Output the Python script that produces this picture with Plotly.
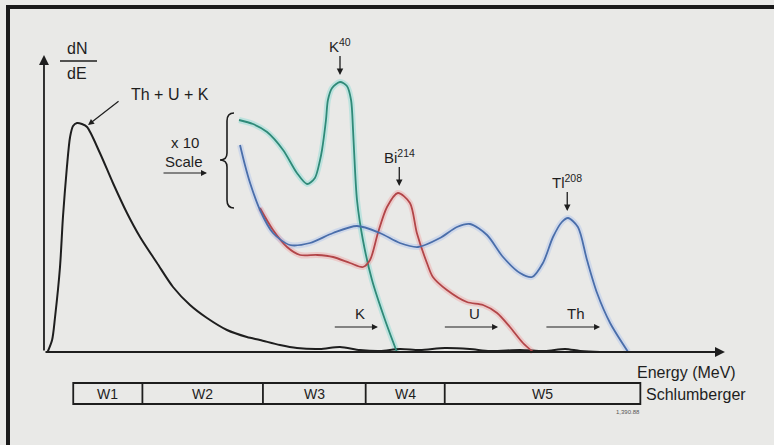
import plotly.graph_objects as go

# ---------------- data (energy in MeV, dN/dE in arbitrary units) ----------------
total_E = [-0.02, 0.003, 0.018, 0.043, 0.058, 0.078, 0.094, 0.109, 0.129, 0.154, 0.180,
           0.245, 0.311, 0.382, 0.448, 0.534, 0.615, 0.701, 0.787, 0.888, 0.989, 1.055,
           1.156, 1.242, 1.358, 1.460, 1.561, 1.662, 1.763, 1.864, 1.991, 2.117, 2.219,
           2.371, 2.497, 2.599, 2.675, 2.776, 2.877]
total_N = [0, 12, 35, 85, 135, 185, 215, 226, 229, 228, 225,
           199, 169, 139, 115, 89, 65, 47, 34, 22, 15, 12,
           7, 4, 3, 5, 2, 1, 3, 2, 4, 3, 1,
           2, 1, 3, 1, 0, 0]

k_E = [0.949, 1.020, 1.091, 1.172, 1.242, 1.293, 1.333, 1.359, 1.369, 1.389, 1.399,
       1.420, 1.460, 1.495, 1.516, 1.526, 1.531, 1.546, 1.576, 1.622, 1.688, 1.748]
k_N = [232, 228, 220, 202, 179, 168, 174, 192, 202, 232, 252,
       264, 270, 266, 252, 222, 202, 152, 112, 72, 32, 0]

u_E = [1.055, 1.121, 1.192, 1.258, 1.344, 1.425, 1.511, 1.576, 1.612, 1.652, 1.698,
       1.753, 1.814, 1.849, 1.900, 1.930, 2.001, 2.102, 2.184, 2.255, 2.320, 2.386, 2.437]
u_N = [144, 122, 105, 97, 97, 95, 89, 85, 92, 119, 145,
       159, 149, 119, 89, 75, 62, 50, 47, 39, 25, 9, 0]

th_E = [0.954, 0.979, 1.005, 1.055, 1.121, 1.207, 1.308, 1.425, 1.546, 1.662, 1.763,
        1.855, 1.966, 2.052, 2.118, 2.204, 2.285, 2.371, 2.432, 2.487, 2.538, 2.583,
        2.614, 2.664, 2.710, 2.761, 2.827, 2.918]
th_N = [207, 187, 169, 142, 119, 107, 109, 119, 126, 119, 109,
        105, 114, 125, 128, 117, 95, 79, 75, 89, 115, 130,
        134, 125, 92, 59, 29, 0]

window_names = ["W1", "W2", "W3", "W4", "W5"]
window_edges = [0.11, 0.46, 1.07, 1.59, 1.99, 2.98]

peak_labels = ["K<sup>40</sup>", "Bi<sup>214</sup>", "Tl<sup>208</sup>"]
peak_E = [1.46, 1.76, 2.61]

band_labels = ["K", "U", "Th"]
band_start_E = [1.426, 1.983, 2.497]
band_end_E = [1.652, 2.260, 2.776]

# ---------------- figure ----------------
W, H = 774, 445
FONT = "Liberation Sans, Arial, sans-serif"
INK = "#1e1e1e"
BG = "#e9e9e7"


def px(x):
    return x / W


def py(y):
    return 1 - y / H


def label(x, y, text, size, xanchor="center", color=INK):
    return dict(x=px(x), y=py(y), xref="paper", yref="paper", text=text, showarrow=False,
                xanchor=xanchor, yanchor="middle", font=dict(family=FONT, size=size, color=color))


fig = go.Figure()

glow = [
    (k_E, k_N, "rgba(110,215,205,0.35)"),
    (u_E, u_N, "rgba(240,150,150,0.35)"),
    (th_E, th_N, "rgba(150,180,240,0.30)"),
]
for xs, ys, c in glow:
    fig.add_trace(go.Scatter(x=xs, y=ys, mode="lines", line=dict(color=c, width=6, shape="spline", smoothing=0.8),
                             hoverinfo="skip", showlegend=False))

series = [
    (total_E, total_N, INK, 2.0),
    (k_E, k_N, "#2f8a78", 1.8),
    (u_E, u_N, "#b24548", 1.8),
    (th_E, th_N, "#4a6eaa", 1.8),
]
for xs, ys, c, w in series:
    fig.add_trace(go.Scatter(x=xs, y=ys, mode="lines", line=dict(color=c, width=w, shape="spline", smoothing=0.8),
                             hoverinfo="skip", showlegend=False))

ann = []
shapes = []

# axes with arrows
x0 = -0.038
ann.append(dict(x=3.408, y=0, ax=x0, ay=0, axref="x", ayref="y", xref="x", yref="y", text="",
                showarrow=True, arrowhead=2, arrowsize=1.1, arrowwidth=1.8, arrowcolor=INK))
ann.append(dict(x=x0, y=297, ax=x0, ay=0, axref="x", ayref="y", xref="x", yref="y", text="",
                showarrow=True, arrowhead=2, arrowsize=1.1, arrowwidth=1.8, arrowcolor=INK))

# dN/dE label
ann.append(label(77, 49, "dN", 16))
ann.append(label(77, 73, "dE", 16))
shapes.append(dict(type="line", xref="paper", yref="paper", x0=px(60), x1=px(97), y0=py(61), y1=py(61),
                   line=dict(color=INK, width=1.3)))

# Th + U + K label and arrow
ann.append(label(170, 95, "Th + U + K", 16))
ann.append(dict(x=0.185, y=227, xref="x", yref="y", ax=32, ay=-25, text="", showarrow=True,
                arrowhead=2, arrowsize=1, arrowwidth=1.2, arrowcolor=INK))

# x 10 Scale with brace
ann.append(label(185, 143, "x 10", 15))
ann.append(label(184, 161, "Scale", 15))
ann.append(dict(x=0.787, y=179, xref="x", yref="y", ax=-45, ay=0, text="", showarrow=True,
                arrowhead=2, arrowsize=1, arrowwidth=1.2, arrowcolor=INK))

brace_pts = [("M", 234, 113), ("Q", 227, 113, 227, 121), ("L", 227, 153), ("Q", 227, 160, 220, 160),
             ("Q", 227, 160, 227, 167), ("L", 227, 200), ("Q", 227, 208, 234, 208)]
path = ""
for seg in brace_pts:
    cmd = seg[0]
    nums = seg[1:]
    coords = []
    for i in range(0, len(nums), 2):
        coords.append(f"{px(nums[i]):.5f},{py(nums[i + 1]):.5f}")
    path += cmd + " " + " ".join(coords) + " "
shapes.append(dict(type="path", xref="paper", yref="paper", path=path.strip(),
                   line=dict(color=INK, width=1.6)))

# peak labels with arrows
peak_series = [(k_E, k_N), (u_E, u_N), (th_E, th_N)]
for lab, e, (xs, ys) in zip(peak_labels, peak_E, peak_series):
    top = max(v for xv, v in zip(xs, ys) if abs(xv - e) < 0.06)
    ann.append(dict(x=e, y=top + 7, xref="x", yref="y", ax=0, ay=-30, text=lab, showarrow=True,
                    arrowhead=2, arrowsize=1, arrowwidth=1.3, arrowcolor=INK,
                    font=dict(family=FONT, size=15, color=INK)))

# K / U / Th arrows
for lab, s, e in zip(band_labels, band_start_E, band_end_E):
    ann.append(dict(x=e, y=25, ax=s, ay=25, axref="x", ayref="y", xref="x", yref="y", text="",
                    showarrow=True, arrowhead=2, arrowsize=1, arrowwidth=1.2, arrowcolor=INK))
    ann.append(dict(x=(s + e) / 2 + 0.02, y=39, xref="x", yref="y", text=lab, showarrow=False,
                    xanchor="center", yanchor="middle", font=dict(family=FONT, size=15, color=INK)))

ann.append(label(686, 372, "Energy (MeV)", 16))

# Schlumberger window bar
y_top, y_bot = -31, -52
shapes.append(dict(type="rect", xref="x", yref="y", x0=window_edges[0], x1=window_edges[-1],
                   y0=y_bot, y1=y_top, line=dict(color=INK, width=1.8), fillcolor="rgba(0,0,0,0)"))
for e in window_edges[1:-1]:
    shapes.append(dict(type="line", xref="x", yref="y", x0=e, x1=e, y0=y_bot, y1=y_top,
                       line=dict(color=INK, width=1.8)))
for name, a, b in zip(window_names, window_edges[:-1], window_edges[1:]):
    ann.append(dict(x=(a + b) / 2, y=(y_top + y_bot) / 2, xref="x", yref="y", text=name, showarrow=False,
                    xanchor="center", yanchor="middle", font=dict(family=FONT, size=14, color=INK)))
ann.append(label(644, 394, "Schlumberger", 16, xanchor="left"))
ann.append(label(628, 412, "1,390.88", 6, color="#555555"))

# scan frame (dark border on left and top)
shapes.append(dict(type="rect", xref="paper", yref="paper", x0=px(6), x1=px(10), y0=0, y1=py(5),
                   line=dict(width=0), fillcolor="#1a1a1a"))
shapes.append(dict(type="rect", xref="paper", yref="paper", x0=px(6), x1=1, y0=py(9), y1=py(5),
                   line=dict(width=0), fillcolor="#1a1a1a"))

fig.update_layout(
    width=W, height=H,
    margin=dict(l=0, r=0, t=0, b=0),
    paper_bgcolor=BG, plot_bgcolor=BG,
    xaxis=dict(range=[-0.26063, 3.65638], visible=False, fixedrange=True),
    yaxis=dict(range=[-93, 352], visible=False, fixedrange=True),
    annotations=ann, shapes=shapes,
    showlegend=False,
)

fig.write_html("out.html")
